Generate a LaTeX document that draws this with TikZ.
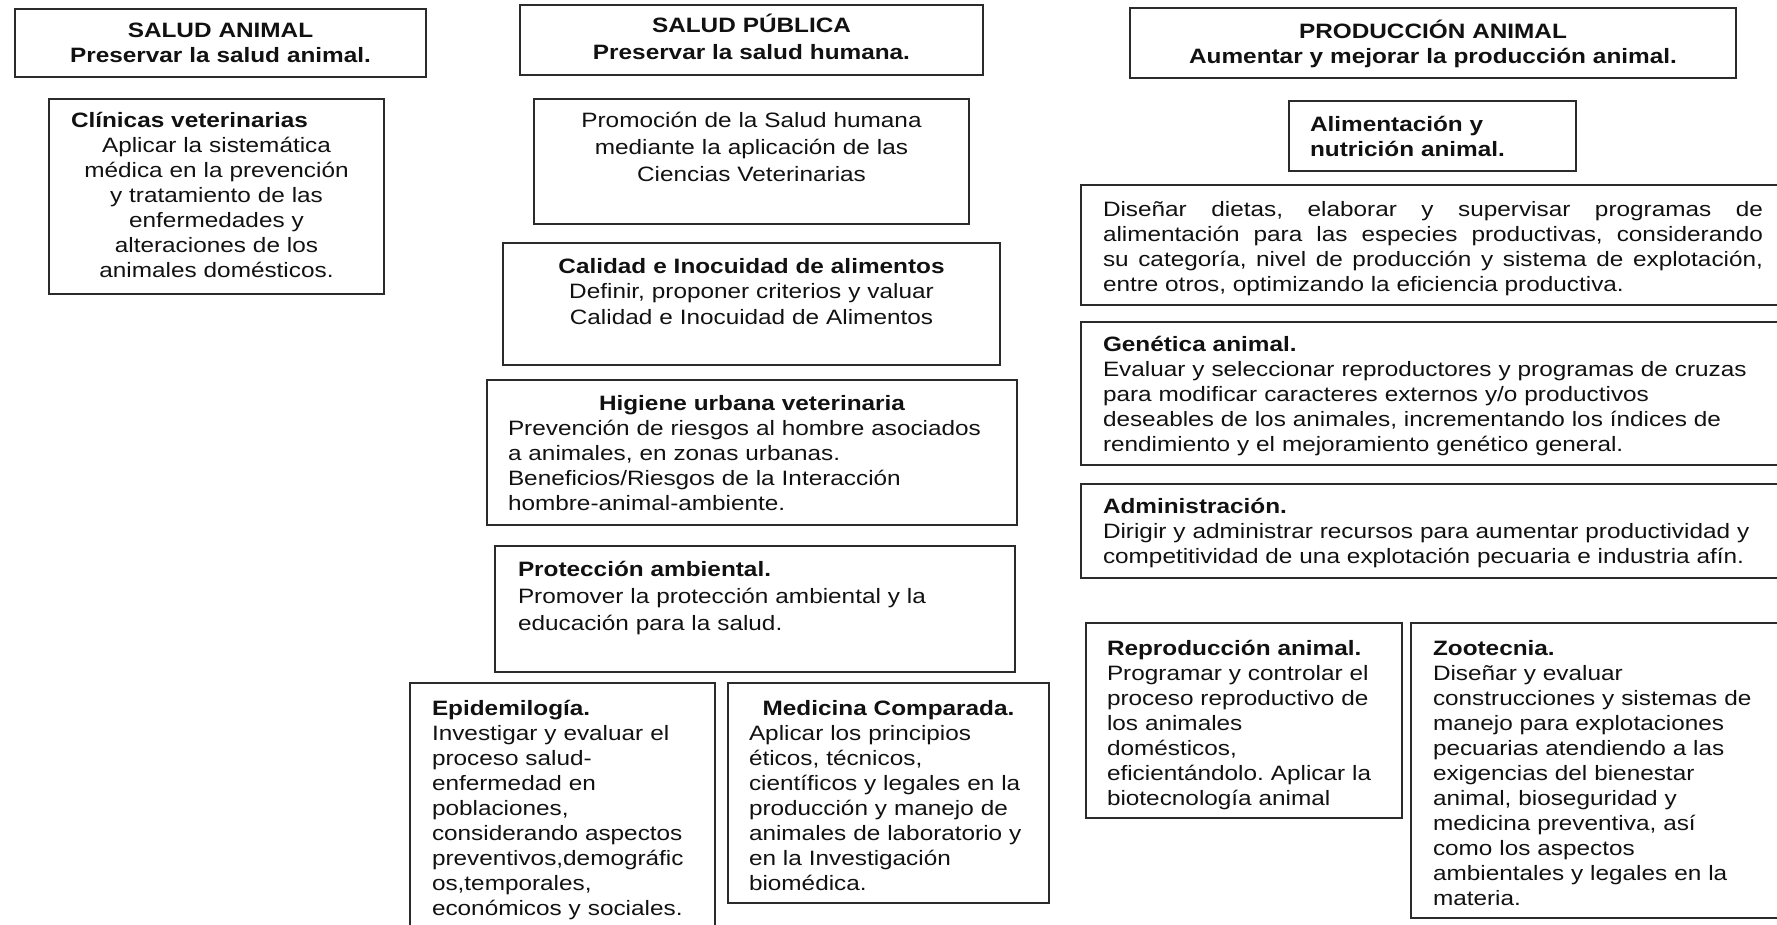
\documentclass[tikz,border=0pt]{standalone}
\usepackage{fontspec}
\setmainfont{Liberation Sans}[FakeStretch=1.17]
\usepackage{tikz}
\definecolor{borde}{HTML}{2B2B2B}
\definecolor{tinta}{HTML}{111111}
\frenchspacing

\begin{document}
\begin{tikzpicture}[x=0.5pt,y=-0.5pt,
  caja/.style={draw=borde,line width=1pt,anchor=north west,outer sep=0pt,inner ysep=0pt,text=tinta,align=left,font=\fontsize{10.4}{12.5}\selectfont},
  encab/.style={caja,align=center,font=\fontsize{10.4}{12.5}\selectfont\bfseries}]
  \clip (0,0) rectangle (1777,925);
  % salud animal
  \node[encab,inner xsep=10pt,text width=185.5pt,text height=14.25pt,text depth=19.75pt] (sanimal) at (15,9) {SALUD ANIMAL\\Preservar la salud animal.};
  \node[caja,inner xsep=11pt,text width=145.5pt,text height=14.5pt,text depth=83pt] (clinicas) at (49,99) {\textbf{Clínicas veterinarias}\par{\centering Aplicar la sistemática\\médica en la prevención\\y tratamiento de las\\enfermedades y\\alteraciones de los\\animales domésticos.\par}};
  % salud publica
  \node[encab,font=\fontsize{10.4}{13.35}\selectfont\bfseries,inner xsep=10pt,text width=211.5pt,text height=14pt,text depth=21pt] (spublica) at (520,5) {SALUD PÚBLICA\\Preservar la salud humana.};
  \node[caja,align=center,font=\fontsize{10.4}{13.35}\selectfont,inner xsep=10pt,text width=197.5pt,text height=14.5pt,text depth=48pt] (promocion) at (534,99) {Promoción de la Salud humana\\mediante la aplicación de las\\Ciencias Veterinarias};
  \node[caja,align=center,inner xsep=10pt,text width=228.5pt,text height=15.5pt,text depth=45.5pt] (calidad) at (503,243) {\textbf{Calidad e Inocuidad de alimentos}\\Definir, proponer criterios y valuar\\Calidad e Inocuidad de Alimentos};
  \node[caja,font=\fontsize{10.4}{12.6}\selectfont,inner xsep=10.5pt,text width=244pt,text height=15pt,text depth=57.5pt] (higiene) at (487,380) {{\centering\bfseries Higiene urbana veterinaria\par}Prevención de riesgos al hombre asociados\\a animales, en zonas urbanas.\\Beneficios/Riesgos de la Interacción\\hombre-animal-ambiente.};
  \node[caja,font=\fontsize{10.4}{13.5}\selectfont,inner xsep=11.5pt,text width=237pt,text height=15pt,text depth=48pt] (proteccion) at (495,546) {\textbf{Protección ambiental.}\\Promover la protección ambiental y la\\educación para la salud.};
  \node[caja,font=\fontsize{10.4}{12.55}\selectfont,inner xsep=11pt,text width=130.5pt,text height=16pt,text depth=134pt] (epidem) at (410,683) {\textbf{Epidemilogía.}\\Investigar y evaluar el\\proceso salud-\\enfermedad en\\poblaciones,\\considerando aspectos\\preventivos,demográfic\\os,temporales,\\económicos y sociales.};
  \node[caja,font=\fontsize{10.4}{12.55}\selectfont,inner xsep=10.5pt,text width=139.5pt,text height=16pt,text depth=94pt] (medcomp) at (728,683) {{\centering\bfseries Medicina Comparada.\par}Aplicar los principios\\éticos, técnicos,\\científicos y legales en la\\producción y manejo de\\animales de laboratorio y\\en la Investigación\\biomédica.};
  % produccion animal
  \node[encab,inner xsep=10pt,text width=283pt,text height=15.3pt,text depth=19.7pt] (panimal) at (1130,8) {PRODUCCIÓN ANIMAL\\Aumentar y mejorar la producción animal.};
  \node[caja,font=\fontsize{10.4}{12.5}\selectfont\bfseries,inner xsep=10.5pt,text width=122.5pt,text height=15.25pt,text depth=19.75pt] (alimentacion) at (1289,101) {Alimentación y\\nutrición animal.};
  \node[caja,align=justify,inner xsep=11pt,text width=330pt,text height=15.75pt,text depth=44.25pt] (disenar) at (1081,185) {Diseñar dietas, elaborar y supervisar programas de\linebreak alimentación para las especies productivas, considerando\linebreak su categoría, nivel de producción y sistema de explotación,\linebreak entre otros, optimizando la eficiencia productiva.};
  \node[caja,inner xsep=11pt,text width=330pt,text height=14.5pt,text depth=57pt] (genetica) at (1081,322) {\textbf{Genética animal.}\\Evaluar y seleccionar reproductores y programas de cruzas\\para modificar caracteres externos y/o productivos\\deseables de los animales, incrementando los índices de\\rendimiento y el mejoramiento genético general.};
  \node[caja,inner xsep=11pt,text width=330pt,text height=14.75pt,text depth=32.25pt] (admin) at (1081,484) {\textbf{Administración.}\\Dirigir y administrar recursos para aumentar productividad y\\competitividad de una explotación pecuaria e industria afín.};
  \node[caja,inner xsep=10.5pt,text width=137pt,text height=16pt,text depth=81.5pt] (reproduccion) at (1086,623) {\textbf{Reproducción animal.}\\Programar y controlar el\\proceso reproductivo de\\los animales\\domésticos,\\eficientándolo. Aplicar la\\biotecnología animal};
  \node[caja,inner xsep=11pt,text width=170pt,text height=16pt,text depth=131.5pt] (zootecnia) at (1411,623) {\textbf{Zootecnia.}\\Diseñar y evaluar\\construcciones y sistemas de\\manejo para explotaciones\\pecuarias atendiendo a las\\exigencias del bienestar\\animal, bioseguridad y\\medicina preventiva, así\\como los aspectos\\ambientales y legales en la\\materia.};
\end{tikzpicture}
\end{document}
